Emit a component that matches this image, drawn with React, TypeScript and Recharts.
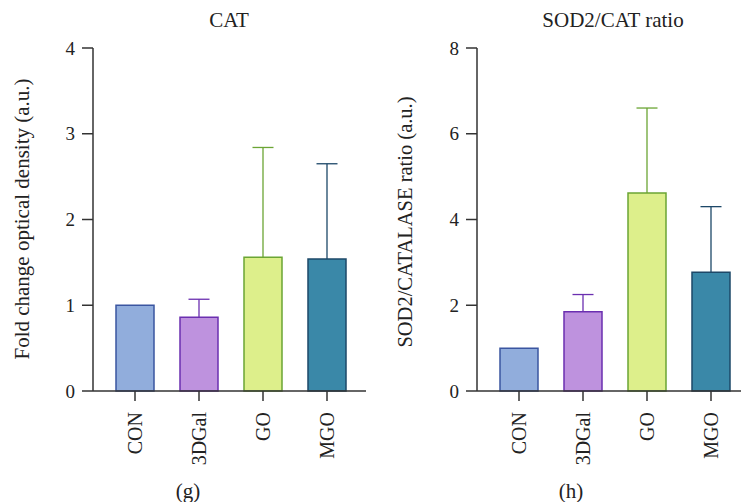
import { BarChart, Bar, XAxis, YAxis, Cell } from 'recharts'

const categories = ['CON', '3DGal', 'GO', 'MGO']
const catMeans = [1.0, 0.86, 1.56, 1.54]
const catErrors = [0, 0.21, 1.28, 1.11]
const ratioMeans = [1.0, 1.85, 4.62, 2.77]
const ratioErrors = [0, 0.4, 1.98, 1.53]
const catTicks = [0, 1, 2, 3, 4]
const ratioTicks = [0, 2, 4, 6, 8]

const fills = ['#91addc', '#be92de', '#ddef8b', '#3a88a8']
const strokes = ['#3a55a0', '#6b2fb0', '#6ba534', '#1d4868']

const AXIS = '#333'
const FONT = '"Liberation Serif", "DejaVu Serif", serif'

const catData = categories.map((name, i) => ({ name, value: catMeans[i], err: catErrors[i] }))
const ratioData = categories.map((name, i) => ({ name, value: ratioMeans[i], err: ratioErrors[i] }))

// upper-only error bar, drawn on a stacked bar that spans mean -> mean + err
function ErrorShape(props: any) {
  const { x, y, width, height, payload } = props
  if (!height || height <= 0) return null
  const i = categories.indexOf(payload.name)
  const cx = x + width / 2
  return (
    <g stroke={strokes[i]} strokeWidth={1.3}>
      <line x1={cx} y1={y + height} x2={cx} y2={y} />
      <line x1={cx - 10.5} y1={y} x2={cx + 10.5} y2={y} />
    </g>
  )
}

function CatTick(props: any) {
  const { x, y, payload } = props
  return (
    <text
      x={x}
      y={y}
      transform={`rotate(-90, ${x}, ${y})`}
      textAnchor="end"
      dominantBaseline="central"
      fontSize={20}
      fill="#222"
      fontFamily={FONT}
    >
      {payload.value}
    </text>
  )
}

function Panel({ data, ticks, yAxisWidth, width, padLeft, padRight }: any) {
  return (
    <BarChart
      width={width}
      height={502}
      data={data}
      margin={{ top: 48, right: 0, bottom: 51, left: 0 }}
      barCategoryGap={26}
    >
      <XAxis
        dataKey="name"
        interval={0}
        height={60}
        padding={{ left: padLeft, right: padRight }}
        axisLine={{ stroke: AXIS, strokeWidth: 1.5 }}
        tickLine={{ stroke: AXIS, strokeWidth: 1.5 }}
        tickSize={10}
        tickMargin={11}
        tick={<CatTick />}
      />
      <YAxis
        width={yAxisWidth}
        domain={[0, ticks[ticks.length - 1]]}
        ticks={ticks}
        interval={0}
        axisLine={{ stroke: AXIS, strokeWidth: 1.5 }}
        tickLine={{ stroke: AXIS, strokeWidth: 1.5 }}
        tickSize={11}
        tickMargin={7}
        tick={{ fontSize: 19, fill: '#222', fontFamily: FONT }}
      />
      <Bar dataKey="value" stackId="a" barSize={38} isAnimationActive={false}>
        {data.map((_: any, i: number) => (
          <Cell key={i} fill={fills[i]} stroke={strokes[i]} strokeWidth={1.5} />
        ))}
      </Bar>
      <Bar dataKey="err" stackId="a" barSize={38} shape={<ErrorShape />} isAnimationActive={false} />
    </BarChart>
  )
}

export default function App() {
  return (
    <div
      style={{
        position: 'absolute',
        left: 0,
        top: 0,
        width: 741,
        height: 502,
        overflow: 'hidden',
        background: '#fff',
        fontFamily: FONT,
      }}
    >
      <div style={{ position: 'absolute', left: 0, top: 0 }}>
        <Panel data={catData} ticks={catTicks} yAxisWidth={93} width={366} padLeft={10} padRight={7} />
      </div>
      <div style={{ position: 'absolute', left: 370, top: 0 }}>
        <Panel data={ratioData} ticks={ratioTicks} yAxisWidth={107} width={380} padLeft={10} padRight={7} />
      </div>
      <svg
        width={741}
        height={502}
        style={{ position: 'absolute', left: 0, top: 0, pointerEvents: 'none' }}
        fontFamily={FONT}
        fill="#222"
      >
        <text x={229} y={27} textAnchor="middle" fontSize={21}>CAT</text>
        <text x={613} y={27} textAnchor="middle" fontSize={21}>SOD2/CAT ratio</text>
        <text
          x={22}
          y={219}
          transform="rotate(-90, 22, 219)"
          textAnchor="middle"
          dominantBaseline="central"
          fontSize={21}
        >
          Fold change optical density (a.u.)
        </text>
        <text
          x={405}
          y={222}
          transform="rotate(-90, 405, 222)"
          textAnchor="middle"
          dominantBaseline="central"
          fontSize={20.5}
        >
          SOD2/CATALASE ratio (a.u.)
        </text>
        <text x={188} y={491} textAnchor="middle" dominantBaseline="central" fontSize={21}>(g)</text>
        <text x={571} y={491} textAnchor="middle" dominantBaseline="central" fontSize={21}>(h)</text>
      </svg>
    </div>
  )
}
